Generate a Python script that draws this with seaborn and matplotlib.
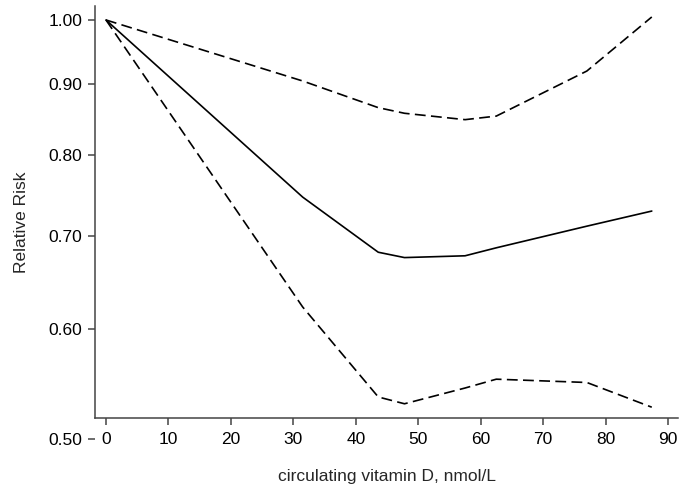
import seaborn as sns
from matplotlib import pyplot as plt
import matplotlib.ticker as ticker
import pandas as pd

sns.set_style('ticks')
plt.rcParams['font.family'] = ['Liberation Sans', 'DejaVu Sans']

# knots of the dose-response curve
vitd = [0, 31.5, 43.6, 47.8, 57.5, 62.5, 77.0, 87.4]
rr = [1.0, 0.746, 0.681, 0.675, 0.677, 0.686, 0.711, 0.729]
rr_upper = [1.0, 0.904, 0.865, 0.857, 0.848, 0.853, 0.919, 1.005]
rr_lower = [1.0, 0.622, 0.536, 0.530, 0.544, 0.552, 0.549, 0.527]

yticks = [0.50, 0.60, 0.70, 0.80, 0.90, 1.00]
xticks = [0, 10, 20, 30, 40, 50, 60, 70, 80, 90]

df = pd.concat([
    pd.DataFrame({'x': vitd, 'y': rr, 'line': 'est'}),
    pd.DataFrame({'x': vitd, 'y': rr_upper, 'line': 'upper'}),
    pd.DataFrame({'x': vitd, 'y': rr_lower, 'line': 'lower'}),
])

fig = plt.figure(figsize=(6.85, 4.94), dpi=100)
ax = fig.add_axes([95 / 685, 55 / 494, 583 / 685, 433 / 494])

sns.lineplot(data=df, x='x', y='y', hue='line', style='line',
             palette={'est': 'black', 'upper': 'black', 'lower': 'black'},
             dashes={'est': '', 'upper': (6.5, 3.2), 'lower': (6.5, 3.2)},
             linewidth=1.2, legend=False, ax=ax, sort=False)

ax.set_yscale('log')
ax.set_ylim(0.5, 1.0234)
ax.set_xlim(-1.76, 91.6)
ax.yaxis.set_major_locator(ticker.FixedLocator(yticks))
ax.yaxis.set_major_formatter(ticker.FixedFormatter(['%.2f' % v for v in yticks]))
ax.yaxis.set_minor_locator(ticker.NullLocator())
ax.set_xticks(xticks)

ax.spines['top'].set_visible(False)
ax.spines['right'].set_visible(False)
ax.spines['bottom'].set_position(('data', 0.518))
ax.spines['left'].set_bounds(0.518, 1.0234)
for s in ['left', 'bottom']:
    ax.spines[s].set_color('#444444')
    ax.spines[s].set_linewidth(1.1)

ax.tick_params(axis='both', colors='#444444', labelcolor='black', length=5,
               width=1.1, labelsize=12.5)
ax.tick_params(axis='y', pad=4)
ax.tick_params(axis='x', pad=5)

ax.set_xlabel('circulating vitamin D, nmol/L', fontsize=12.5, labelpad=16)
ax.set_ylabel('Relative Risk', fontsize=12.5, labelpad=14)

plt.savefig('out.png', dpi=100)
